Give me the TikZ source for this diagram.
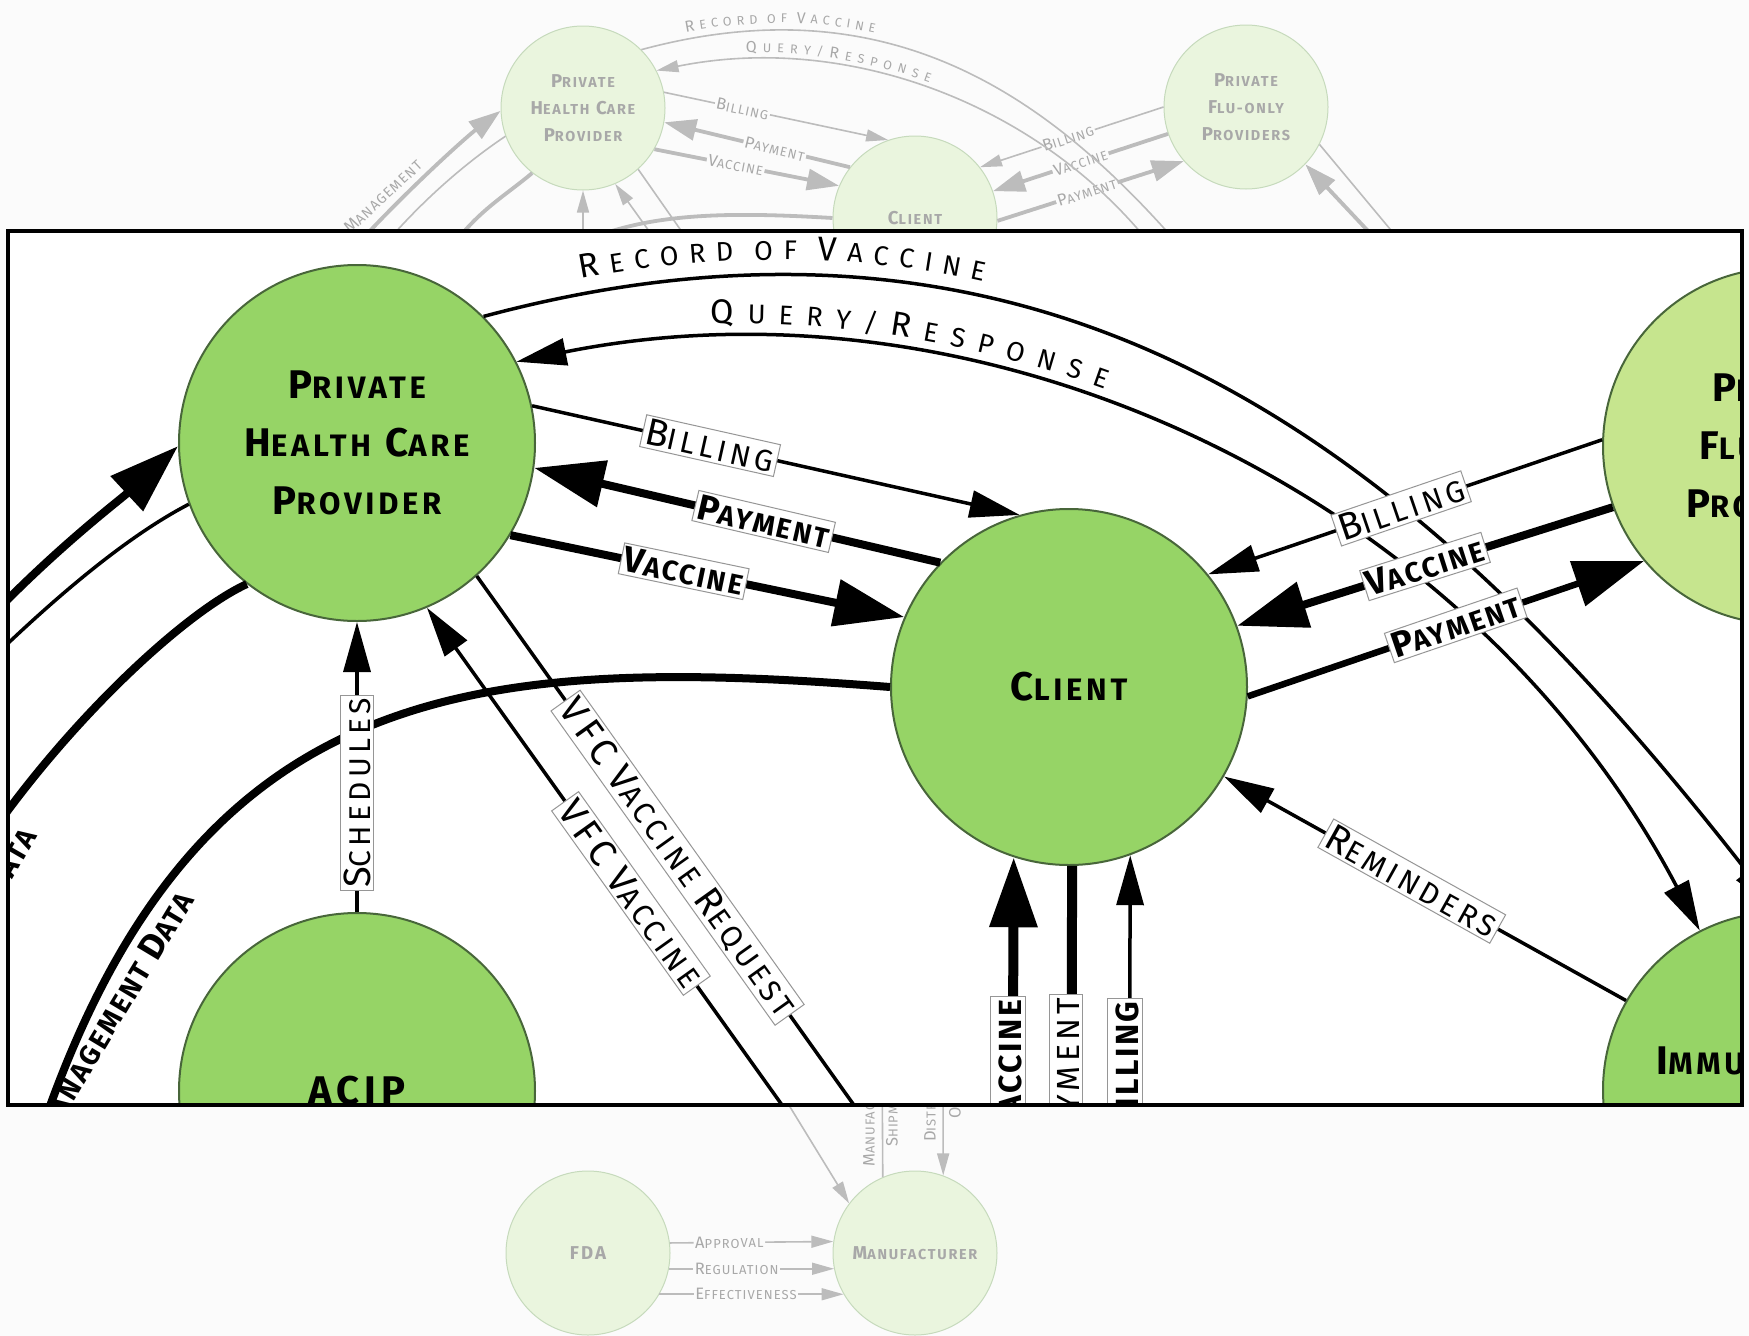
\documentclass[tikz,border=0pt]{standalone}
\usepackage{fontspec}
\setmainfont{Fira Sans}
\newfontfamily\spfont[LetterSpace=0.5]{Fira Sans}
\newfontfamily\tifont[LetterSpace=12]{Fira Sans}
\newfontfamily\lbfont[LetterSpace=8]{Fira Sans}
\newfontfamily\lrfont[LetterSpace=14]{Fira Sans}
\usetikzlibrary{arrows.meta,decorations.text}
\definecolor{bgc}{RGB}{251,251,251}
\definecolor{nodegreen}{RGB}{150,212,102}
\definecolor{flugreen}{RGB}{198,229,142}
\definecolor{nodeborder}{RGB}{72,102,58}
\definecolor{fadefill}{RGB}{234,245,222}
\definecolor{fadeborder}{RGB}{198,218,188}
\definecolor{fadetext}{RGB}{168,168,168}
\definecolor{fadeline}{RGB}{188,188,188}
\definecolor{lblborder}{RGB}{150,150,150}
\newcommand\scw[4]{{\fontsize{#1}{#1}\selectfont #3}{\fontsize{#2}{#2}\selectfont #4}}
\newcommand\ttl[2]{\scw{40}{31}{#1}{#2}}
\newcommand\fttl[2]{\scw{18.6}{14.4}{#1}{#2}}
\newcommand\lb[2]{\scw{36}{28}{#1}{#2}}
\newcommand\lr[2]{\scw{38}{30}{#1}{#2}}
\newcommand\lv[2]{\scw{40}{32}{#1}{#2}}
\newcommand\flb[2]{\scw{16.5}{13}{#1}{#2}}
% curved-label fonts (space width tuned for tracking)
\newcommand\dA{\spfont\fontsize{34}{34}\selectfont}
\newcommand\dB{\spfont\fontsize{27}{27}\selectfont\fontdimen2\font=10pt}
\newcommand\dW{\spfont\fontsize{27.01}{27}\selectfont\fontdimen2\font=20pt}
\newcommand\dQ{\spfont\fontsize{27.02}{27}\selectfont\fontdimen2\font=12.5pt}
\newcommand\dC{\spfont\fontsize{15.8}{15.8}\selectfont}
\newcommand\dD{\spfont\fontsize{12.6}{12.6}\selectfont\fontdimen2\font=4.7pt}
\newcommand\dWf{\spfont\fontsize{12.61}{12.6}\selectfont\fontdimen2\font=9.3pt}
\newcommand\dQf{\spfont\fontsize{12.62}{12.6}\selectfont\fontdimen2\font=5.8pt}
\tikzset{
  thintip/.tip={Triangle[length=50pt,width=27pt]},
  thicktip/.tip={Triangle[length=70pt,width=46pt]},
  fthintip/.tip={Triangle[length=22pt,width=12pt]},
  fthicktip/.tip={Triangle[length=32pt,width=21pt]},
  big/.style={circle, minimum size=356pt, inner sep=0pt, fill=nodegreen, draw=nodeborder, line width=2pt, align=center, text=black, font=\tifont\bfseries\fontsize{40}{58}\selectfont},
  fbig/.style={circle, minimum size=164pt, inner sep=0pt, fill=fadefill, draw=fadeborder, line width=1pt, align=center, text=fadetext, font=\tifont\bfseries\fontsize{18.6}{27}\selectfont},
  thn/.style={draw=black, line width=3.5pt},
  thk/.style={draw=black, line width=8pt},
  fthn/.style={draw=fadeline, line width=1.6pt},
  fthk/.style={draw=fadeline, line width=3.8pt},
  lbl/.style={fill=white, draw=lblborder, line width=1pt, inner sep=3pt, font=\lrfont\fontsize{30}{30}\selectfont, text=black},
  blbl/.style={lbl, font=\lbfont\bfseries\fontsize{28}{28}\selectfont},
  slbl/.style={lbl, sloped},
  sblbl/.style={blbl, sloped},
  flbl/.style={fill=bgc, inner sep=1.5pt, font=\lbfont\fontsize{13}{13}\selectfont, text=fadetext, sloped},
  ftxt/.style={inner sep=1pt, font=\lbfont\fontsize{13}{13}\selectfont, text=fadetext},
}
\begin{document}
\begin{tikzpicture}[x=1pt,y=-1pt]
\useasboundingbox (0,0) rectangle (1749,1336);
\fill[bgc] (0,0) rectangle (1749,1336);

% ================= faded overview =================
\node[fbig] (facip) at (583,409) {ACIP};
\node[fbig] (freg) at (1245,409) {};
\node[fbig] (fphcp) at (583,108) {\fttl{P}{RIVATE}\\\fttl{H}{EALTH} \fttl{C}{ARE}\\\fttl{P}{ROVIDER}};
\node[fbig] (fclient) at (915,218) {\fttl{C}{LIENT}};
\node[fbig] (fflu) at (1246,107) {\fttl{P}{RIVATE}\\\fttl{F}{LU-ONLY}\\\fttl{P}{ROVIDERS}};
\node[fbig] (ffda) at (588,1253) {FDA};
\node[fbig] (fman) at (915,1253) {\fttl{M}{ANUFACTURER}};

\draw[fthn,-{fthintip}] (fphcp.11) -- node[flbl,pos=0.35]{\flb{B}{ILLING}} (fclient.109.5);
\draw[fthk,-{fthicktip}] (fclient.142.5) -- node[flbl,pos=0.405]{\flb{P}{AYMENT}} (fphcp.-10);
\draw[fthk,-{fthicktip}] (fphcp.-30) -- node[flbl,pos=0.44]{\flb{V}{ACCINE}} (fclient.157);
\draw[fthn,-{fthintip}] (fflu.180) -- node[flbl,pos=0.52]{\flb{B}{ILLING}} (fclient.38);
\draw[fthk,-{fthicktip}] (fflu.199) -- node[flbl,pos=0.5]{\flb{V}{ACCINE}} (fclient.19);
\draw[fthk,-{fthicktip}] (fclient.-2) -- node[flbl,pos=0.48]{\flb{P}{AYMENT}} (fflu.221);

\draw[fthn,-{fthintip}] (fphcp.45) .. controls (916.5,-24.6) and (1084.9,121) .. (freg.90.5);
\draw[fthn,{fthintip}-{fthintip}] (fphcp.27.4) .. controls (873.7,26.6) and (1099.3,128.9) .. (freg.117);
\path[decorate, decoration={text along path, raise=7pt, text color=fadetext, text align={left, left indent=47pt}, text={|\dC|R|\dD| E C O R D|\dWf| |\dD|O F|\dWf| |\dC|V|\dD| A C C I N E}}] (fphcp.45) .. controls (916.5,-24.6) and (1084.9,121) .. (freg.90.5);
\path[decorate, decoration={text along path, raise=8pt, text color=fadetext, text align={left, left indent=90pt}, text={|\dC|Q|\dQf| U E R Y / |\dC|R|\dQf| E S P O N S E}}] (fphcp.27.4) .. controls (873.7,26.6) and (1099.3,128.9) .. (freg.117);

\coordinate (fa1) at (330,275);
\coordinate (fa2) at (370,262);
\coordinate (fa3) at (440,265);
\coordinate (fa4) at (437.9,422.9);
\draw[fthk,-{fthicktip}] (fa1) .. controls (390,205) and (465,138) .. (fphcp.182);
\draw[fthn] (fphcp.200) .. controls (470,160) and (420,200) .. (fa2);
\draw[fthk] (fphcp.232) .. controls (500,200) and (470,215) .. (fa3);
\draw[fthk] (fclient.west) .. controls (637.9,206.4) and (509.9,217.8) .. (fa4);
\node[ftxt, rotate=43, anchor=base east] (fmgmt) at (424,166) {\scw{17.5}{14}{M}{ANAGEMENT}};
\draw[fthn,-{fthintip}] (facip.north) -- (fphcp.south);
\coordinate (fvA) at (702,305);
\coordinate (fvB) at (724,292);
\draw[fthn,-{fthintip}] (fvA) -- (fphcp.-67.4);
\draw[fthn] (fphcp.-48.8) -- (fvB);
\coordinate (ffl1) at (1400,265);
\coordinate (ffl2) at (1420,265);
\draw[fthk,-{fthicktip}] (ffl1) -- (fflu.-44);
\draw[fthn] (fflu.-27) -- (ffl2);

\draw[fthn,-{fthintip}] (ffda.7.6) -- node[flbl,pos=0.364]{\flb{A}{PPROVAL}} (fman.172.4);
\draw[fthn,-{fthintip}] (ffda.-11.2) -- node[flbl,pos=0.41]{\flb{R}{EGULATION}} (fman.191.2);
\draw[fthn,-{fthintip}] (ffda.-30.8) -- node[flbl,pos=0.47]{\flb{E}{FFECTIVENESS}} (fman.210.8);
\coordinate (fd1) at (749,1040);
\coordinate (fd2) at (882,1050);
\coordinate (fd3) at (943,1050);
\draw[fthn,-{fthintip}] (fd1) -- (fman.143.5);
\draw[fthn] (fd2) -- (fman.113.7);
\draw[fthn,-{fthintip}] (fd3) -- (fman.70);
\node[ftxt, rotate=90, anchor=west] (ft1) at (869,1168) {\flb{M}{ANUFACTURER}};
\node[ftxt, rotate=90, anchor=west] (ft2) at (892,1148) {\flb{S}{HIPMENT}};
\node[ftxt, rotate=90, anchor=west] (ft3) at (930,1143) {\flb{D}{ISTRIBUTION}};
\node[ftxt, rotate=90, anchor=west] (ft4) at (955,1120) {\flb{O}{RDERS}};

% ================= inset =================
\begin{scope}
\clip (8,231) rectangle (1742,1105);
\fill[white] (8,231) rectangle (1742,1105);
\node[big] (phcp) at (357,443) {\ttl{P}{RIVATE}\\\ttl{H}{EALTH} \ttl{C}{ARE}\\\ttl{P}{ROVIDER}};
\node[big] (client) at (1069,687) {\ttl{C}{LIENT}};
\node[big, fill=flugreen] (flu) at (1781,446) {\ttl{P}{RIVATE}\\\ttl{F}{LU-ONLY}\\\ttl{P}{ROVIDERS}};
\node[big] (acip) at (357,1091) {ACIP};
\node[big] (reg) at (1781,1090) {\ttl{I}{MMUNIZATION}\\\ttl{R}{EGISTRY}};

% curved top connectors
\draw[thn,-{thintip}] (phcp.45) .. controls (1074,158) and (1434,471) .. (reg.91);
\draw[thn,{thintip}-{thintip}] (phcp.27.4) .. controls (982,268) and (1467,488) .. (reg.117.3);
\path[decorate, decoration={text along path, raise=15pt, text align={left, left indent=102pt}, text={|\dA|R|\dB| E C O R D|\dW| |\dB|O F|\dW| |\dA|V|\dB| A C C I N E}}] (phcp.45) .. controls (1074,158) and (1434,471) .. (reg.91);
\path[decorate, decoration={text along path, raise=17pt, text align={left, left indent=196pt}, text={|\dA|Q|\dQ| U E R Y / |\dA|R|\dQ| E S P O N S E}}] (phcp.27.4) .. controls (982,268) and (1467,488) .. (reg.117.3);

% left arcs
\coordinate (la1) at (-40,650);
\coordinate (la2) at (-40,690);
\coordinate (la3) at (-20,850);
\coordinate (la4) at (45,1120);
\draw[thk,-{thicktip}] (la1) .. controls (40,560) and (120,500) .. (phcp.181);
\draw[thn] (phcp.200) .. controls (120,540) and (40,610) .. (la2);
\draw[thk] (phcp.232) .. controls (180,615) and (60,730) .. (la3);
\draw[thk] (client.west) .. controls (475,654.5) and (199.7,679) .. (la4);
\node[rotate=60, anchor=base east, inner sep=0pt, font=\lbfont\bfseries\fontsize{28}{28}\selectfont] (ldata) at (38,836) {\lb{D}{ATA}};
\node[rotate=59, anchor=base east, inner sep=0pt, font=\lbfont\bfseries\fontsize{28}{28}\selectfont] (lmgmt) at (195,900) {\lb{M}{ANAGEMENT} \lb{D}{ATA}};

% PHCP <-> client
\draw[thn,-{thintip}] (phcp.12.7) -- node[slbl,pos=0.365]{\lr{B}{ILLING}} (client.106);
\draw[thk,-{thicktip}] (client.136) -- node[sblbl,pos=0.435]{\lb{P}{AYMENT}} (phcp.-8.8);
\draw[thk,-{thicktip}] (phcp.-31.3) -- node[sblbl,pos=0.44]{\lb{V}{ACCINE}} (client.157.4);

% flu <-> client
\draw[thn,-{thintip}] (flu.178.4) -- node[slbl,pos=0.51]{\lr{B}{ILLING}} (client.39.4);
\draw[thk,-{thicktip}] (flu.200.1) -- node[sblbl,pos=0.5]{\lb{V}{ACCINE}} (client.20.1);
\draw[thk,line width=6.5pt,-{thicktip}] (client.-3.2) -- node[sblbl,pos=0.525]{\lb{P}{AYMENT}} (flu.220.7);

% reminders
\draw[thn,-{thintip}] (reg.150) -- node[slbl,pos=0.533]{\lr{R}{EMINDERS}} (client.-30.2);

% schedules
\draw[thn,-{thintip}] (acip.north) -- node[lbl,pos=0.41,rotate=90]{\lr{S}{CHEDULES}} (phcp.south);

% VFC
\coordinate (vfcA) at (852,1203);
\coordinate (vfcB) at (928,1209);
\draw[thn,-{thintip}] (vfcA) -- node[slbl,pos=0.52]{{\fontsize{38}{38}\selectfont VFC} \lr{V}{ACCINE}} (phcp.-67.4);
\draw[thn] (phcp.-48.8) -- node[slbl,pos=0.445]{{\fontsize{38}{38}\selectfont VFC} \lr{V}{ACCINE} \lr{R}{EQUEST}} (vfcB);

% bottom verticals
\coordinate (vb1) at (1012,1300);
\coordinate (vb2) at (1071,1300);
\coordinate (vb3) at (1129,1300);
\draw[thk,line width=10pt,-{thicktip}] (vb1) -- (client.-108.7);
\draw[thk,line width=10pt] (client.-89.4) -- (vb2);
\draw[thn,-{thintip}] (vb3) -- (client.-70.3);
\node[blbl, rotate=90, anchor=east] (lv1) at (1008,996) {\lv{V}{ACCINE}};
\node[lbl, rotate=90, anchor=east] (lv2) at (1066,994) {\lv{P}{AYMENT}};
\node[blbl, rotate=90, anchor=east] (lv3) at (1125,998) {\lv{B}{ILLING}};
\end{scope}
\draw[line width=4.5pt] (8,231) rectangle (1742,1105);
\end{tikzpicture}
\end{document}
